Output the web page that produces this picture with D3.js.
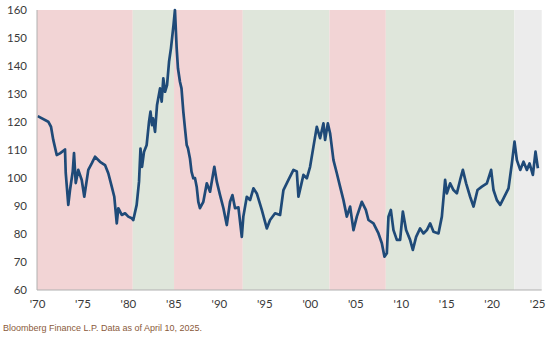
<!DOCTYPE html>
<html><head><meta charset="utf-8">
<script src="https://cdn.jsdelivr.net/npm/d3@7"></script>
<style>body{margin:0;background:#fff;}svg{display:block;}</style>
</head><body><svg id="c" width="550" height="340"></svg>
<script>
// decimal years
const years = [1970.08,1971.24,1971.54,1971.79,1972.17,1972.53,1973.08,1973.16,1973.44,1973.63,1973.93,1974.07,1974.26,1974.54,1974.92,1975.2,1975.64,1976.02,1976.38,1976.93,1977.48,1977.84,1978.22,1978.5,1978.77,1978.94,1979.32,1979.68,1980.04,1980.42,1980.59,
 1980.96,1981.22,1981.38,1981.55,1981.77,1982.06,1982.32,1982.48,1982.65,1982.76,1982.98,1983.2,1983.53,1983.71,1983.89,1984.08,1984.3,1984.52,1984.73,1985.01,1985.17,
 1985.36,1985.5,1985.72,1985.89,1986.09,1986.27,1986.46,1986.6,1986.82,1986.99,1987.19,1987.37,1987.56,1987.74,1987.92,
 1988.29,1988.67,1989.03,1989.5,1989.77,1990.13,1990.5,1990.87,1991.23,1991.49,1991.78,1992.15,1992.52,1992.69,1993.07,1993.43,1993.8,1994.17,1994.72,1995.27,1995.63,1996.18,1996.73,1997.1,1997.65,1998.2,1998.57,1998.75,1999.3,1999.67,2000.03,2000.4,2000.77,2001.13,2001.5,2001.68,2001.98,2002.23,2002.6,2002.97,2003.33,2003.7,2004.07,2004.43,2004.8,2005.17,2005.72,2006.16,2006.45,2007.0,2007.55,2007.92,2008.21,2008.47,2008.65,2008.91,2009.2,2009.57,2009.93,2010.23,2010.59,2011.03,2011.33,2011.69,2012.13,2012.5,2012.87,2013.23,2013.6,2014.15,2014.52,2014.88,2015.07,2015.43,2015.8,2016.17,2016.53,2016.83,2017.19,2017.63,2018.0,2018.44,2018.92,2019.47,2019.94,2020.2,2020.57,2020.94,2021.3,2021.85,2022.22,2022.51,2022.77,2023.14,2023.5,2023.87,2024.16,2024.53,2024.82,2025.08];
const values = [122.1,120.1,118.3,113.6,108.2,108.8,110.2,101.8,90.4,95.7,102.3,108.9,98.2,102.9,99.3,93.3,102.9,105.2,107.6,105.8,104.6,101.7,96.9,93.3,83.8,89.2,86.8,87.4,86.2,85.6,85.0,
 90.4,98.7,110.5,104.0,109.4,111.8,120.1,123.7,118.9,121.3,116.5,126.1,132.0,127.3,135.6,130.8,133.2,141.5,146.3,154.6,160.0,
 146.3,139.2,134.4,132.0,123.7,117.8,111.8,110.6,107.0,102.3,99.9,100.0,96.9,91.5,89.2,
 91.5,98.1,95.1,104.0,98.7,93.9,89.2,83.2,91.5,93.9,89.2,89.5,79.0,86.2,93.3,92.1,96.3,94.5,88.6,82.0,85.0,87.4,86.8,95.7,99.3,102.9,102.3,93.3,101.1,99.9,104.0,111.2,118.3,114.2,119.5,113.6,119.5,116.0,106.4,101.7,96.9,92.1,86.2,89.8,81.4,86.2,91.5,88.6,85.0,83.8,80.2,76.7,71.9,73.1,86.2,88.6,81.4,77.9,77.9,88.0,81.4,77.9,74.3,79.0,82.0,80.2,81.4,83.8,80.8,80.2,86.2,99.3,94.5,98.1,95.7,94.5,99.3,102.9,98.1,93.3,89.8,95.7,96.9,98.1,102.9,95.7,92.1,90.4,92.7,96.3,105.2,113.0,106.4,102.9,105.8,102.9,105.2,101.1,109.4,103.5];
// regimes
const bandStart = [1970.0,1980.53,1985.07,1992.63,2002.16,2008.36,2022.5];
const bandEnd   = [1980.53,1985.07,1992.63,2002.16,2008.36,2022.5,2025.5];
const bandType  = ["weak","strong","weak","strong","weak","strong","current"];
const yTicks = [60,70,80,90,100,110,120,130,140,150,160];
const xTicks = [1970,1975,1980,1985,1990,1995,2000,2005,2010,2015,2020,2025];
const xTickLabels = ["'70","'75","'80","'85","'90","'95","'00","'05","'10","'15","'20","'25"];
const footer = "Bloomberg Finance L.P. Data as of April 10, 2025.";

const svg = d3.select("#c");
const L=37,R=541.7,T=10,B=290;
const x = d3.scaleLinear().domain([1970,2025.5]).range([L,R]);
const y = d3.scaleLinear().domain([60,160]).range([B,T]);
const bandColor = {weak:"#f2d4d5",strong:"#dfe6db",current:"#ececec"};

svg.append("g").selectAll("rect").data(bandStart).join("rect")
  .attr("x",(d)=>x(d)).attr("y",T)
  .attr("width",(d,i)=>x(bandEnd[i])-x(d)).attr("height",B-T)
  .attr("fill",(d,i)=>bandColor[bandType[i]]);

const pts = years.map((yr,i)=>[yr,values[i]]);
svg.append("path").datum(pts)
  .attr("fill","none").attr("stroke","#1f4a78").attr("stroke-width",2.7)
  .attr("stroke-linejoin","round")
  .attr("d",d3.line().x(d=>x(d[0])).y(d=>y(d[1])));

const ya = svg.append("g").attr("transform",`translate(${L},0)`)
  .call(d3.axisLeft(y).tickValues(yTicks).tickSize(0).tickPadding(10));
const xa = svg.append("g").attr("transform",`translate(0,${B})`)
  .call(d3.axisBottom(x).tickValues(xTicks).tickFormat((d,i)=>xTickLabels[i]).tickSize(0).tickPadding(10));
[ya,xa].forEach(a=>{
  a.select(".domain").attr("stroke","#b0b0b0").attr("stroke-width",1);
  a.selectAll("text").attr("font-family","Lato").attr("font-size",11.5).attr("fill","#3a3a3a");
});
xa.select(".domain").attr("d",`M${L},0H${R}`);
ya.select(".domain").attr("d",`M0,${T}V${B}`);

svg.append("text").attr("x",3).attr("y",331).text(footer)
  .attr("font-family","Liberation Sans").attr("font-size",9).attr("fill","#8a5a3a");
</script></body></html>
